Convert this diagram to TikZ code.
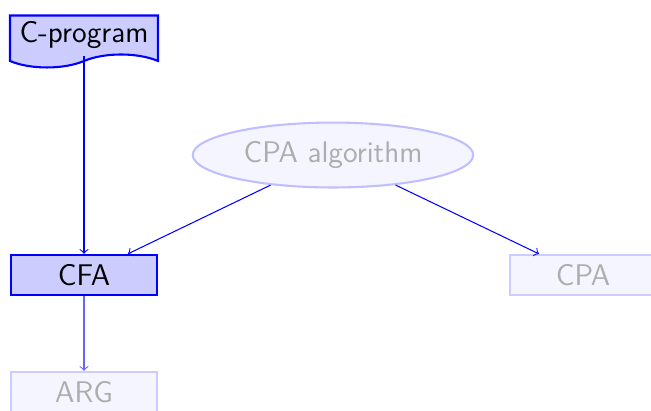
\documentclass[11pt,tikz,border=0pt]{standalone}
\usetikzlibrary{arrows,shapes,calc,positioning}

\begin{document}
\begin{tikzpicture}[x=0.01354cm, y=-0.01354cm, font=\sffamily\fontsize{11.5}{14}\selectfont,
	block/.style={rectangle, draw=blue, fill=blue!20, line width=0.8pt, minimum width=56pt, minimum height=15.5pt, inner sep=1pt},
	faded/.style={rectangle, draw=blue!20, fill=blue!4, text=black!32, line width=0.8pt, minimum width=56pt, minimum height=15.5pt, inner sep=1pt},
	doc/.style={tape, tape bend top=none, draw=blue, fill=blue!20, line width=0.8pt, minimum width=57pt, minimum height=20pt, inner sep=1pt},
	algo/.style={ellipse, draw=blue!25, fill=blue!4, text=black!32, line width=0.8pt, minimum width=108pt, minimum height=25pt, inner sep=0pt},
	link/.style={->, blue, line width=0.4pt}]
	\useasboundingbox (0,0) rectangle (651,410);
	\node [doc] (cprog) at (84,35) {C-program};
	\node [algo] (cpaalgo) at (333,155) {CPA algorithm};
	\node [block] (cfa) at (84,275) {CFA};
	\node [faded] (cpa) at (583,275) {CPA};
	\node [faded] (arg) at (84,392) {ARG};
	\draw [link] (cprog.south) -- (cfa.north);
	\draw [link] (cpaalgo) -- (cfa);
	\draw [link] (cpaalgo) -- (cpa);
	\draw [link, blue!60] (cfa.south) -- (arg.north);
\end{tikzpicture}
\end{document}
